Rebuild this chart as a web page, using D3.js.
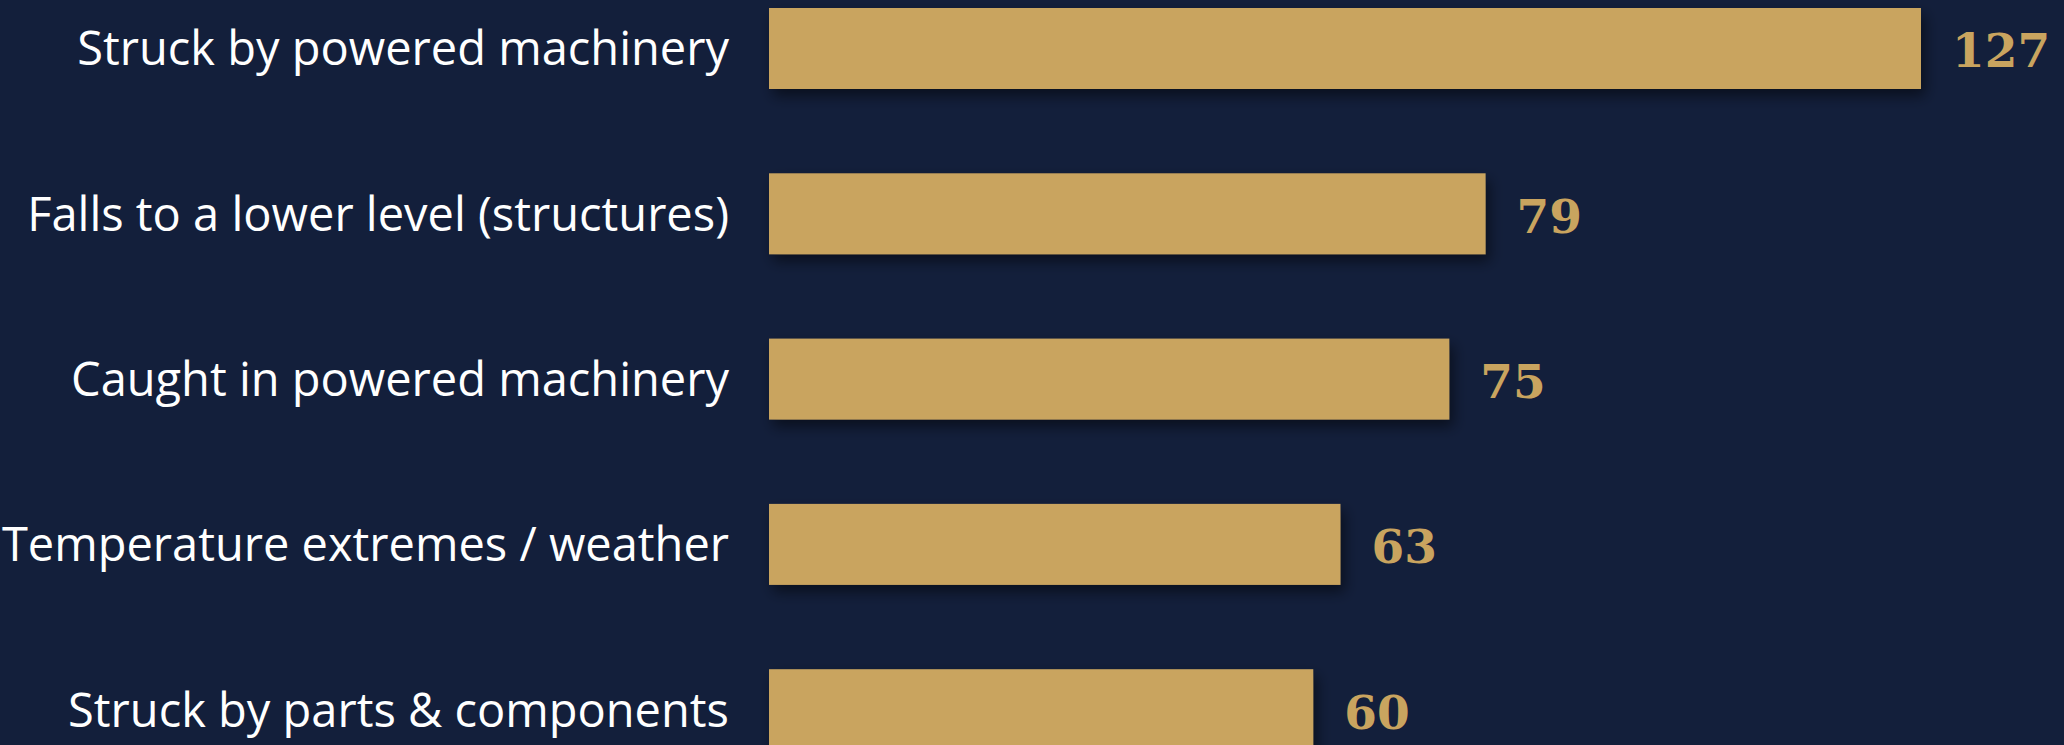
<!DOCTYPE html>
<html>
<head>
<meta charset="utf-8">
<script src="https://cdn.jsdelivr.net/npm/d3@7"></script>
<style>
  body { margin: 0; background: #131f3b; overflow: hidden; }
</style>
</head>
<body>
<div id="chart"></div>
<script>
// Data
const categories = [
  'Struck by powered machinery',
  'Falls to a lower level (structures)',
  'Caught in powered machinery',
  'Temperature extremes / weather',
  'Struck by parts & components'
]
const values = [127, 79, 75, 63, 60]

const total_width = 2064
const total_height = 745
const barColor = '#c9a45f'

const svg = d3.select('#chart').append('svg')
  .attr('width', total_width)
  .attr('height', total_height)

svg.append('rect')
  .attr('width', total_width)
  .attr('height', total_height)
  .attr('fill', '#131f3b')

// soft shadow under the bars
const defs = svg.append('defs')
const shadow = defs.append('filter')
  .attr('id', 'shadow')
  .attr('x', '-5%').attr('y', '-20%')
  .attr('width', '115%').attr('height', '160%')
shadow.append('feDropShadow')
  .attr('dx', 4)
  .attr('dy', 7)
  .attr('stdDeviation', 7)
  .attr('flood-color', '#000')
  .attr('flood-opacity', 0.5)

const x = d3.scaleLinear()
  .domain([0, d3.max(values)])
  .range([769, 1921])

// the last bar runs off the bottom of the picture
const y = d3.scaleBand()
  .domain(categories)
  .range([8, 750.2])
  .paddingInner(0.51)
  .paddingOuter(0)
  .align(0)

const rows = categories.map((c, i) => ({ name: c, value: values[i] }))

const g = svg.append('g')

g.selectAll('rect.bar')
  .data(rows)
  .join('rect')
  .attr('class', 'bar')
  .attr('x', x(0))
  .attr('y', d => y(d.name))
  .attr('width', d => x(d.value) - x(0))
  .attr('height', y.bandwidth())
  .attr('fill', barColor)
  .attr('filter', 'url(#shadow)')

// category labels, right aligned against the bars
g.selectAll('text.label')
  .data(rows)
  .join('text')
  .attr('class', 'label')
  .attr('x', x(0) - 40)
  .attr('y', d => y(d.name) + y.bandwidth() / 2 + 17)
  .attr('text-anchor', 'end')
  .attr('fill', '#ffffff')
  .style('font-family', '"Open Sans", sans-serif')
  .style('font-size', '47px')
  .text(d => d.name)

// value labels
g.selectAll('text.value')
  .data(rows)
  .join('text')
  .attr('class', 'value')
  .attr('x', d => x(d.value) + 31)
  .attr('y', d => y(d.name) + y.bandwidth() / 2 + 19)
  .attr('fill', barColor)
  .style('font-family', '"DejaVu Serif", serif')
  .style('font-weight', 'bold')
  .style('font-size', '47px')
  .text(d => d.value)
</script>
</body>
</html>
